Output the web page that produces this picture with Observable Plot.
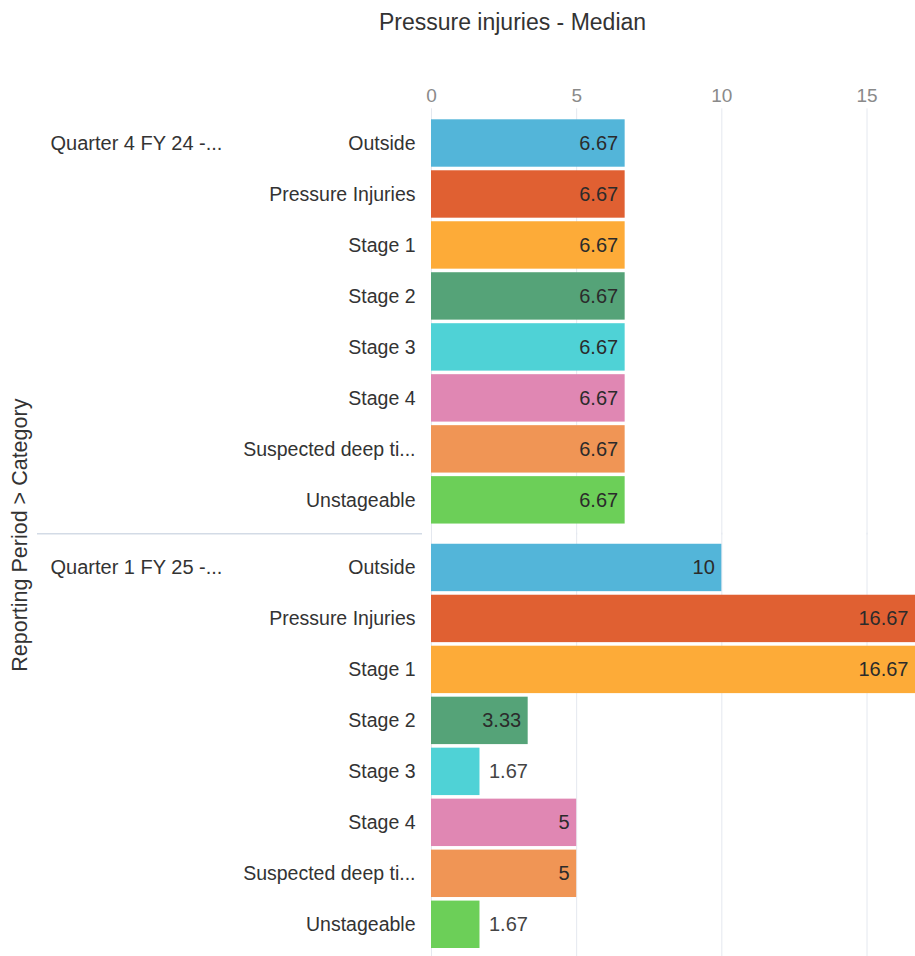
<!DOCTYPE html>
<html><head><meta charset="utf-8">
<script src="https://cdn.jsdelivr.net/npm/d3@7"></script>
<script src="https://cdn.jsdelivr.net/npm/@observablehq/plot@0.6"></script>
<style>
body{margin:0;background:#fff;font-family:"Liberation Sans",Arial,sans-serif}
#title{height:45px;line-height:45px;width:915px;padding-left:110px;box-sizing:border-box;text-align:center;font-size:23px;color:#333;overflow:hidden}
#chart svg{display:block}
</style></head><body>
<div id="title">Pressure injuries - Median</div>
<div id="chart"></div>
<script>
const periods = ["Quarter 4 FY 24 -...", "Quarter 1 FY 25 -..."];
const categories = ["Outside", "Pressure Injuries", "Stage 1", "Stage 2", "Stage 3", "Stage 4", "Suspected deep ti...", "Unstageable"];
const q4Values = [6.67, 6.67, 6.67, 6.67, 6.67, 6.67, 6.67, 6.67];
const q1Values = [10, 16.67, 16.67, 3.33, 1.67, 5, 5, 1.67];
const categoryColors = ["#53b5d9", "#e06032", "#fdab38", "#55a378", "#4fd2d6", "#e087b3", "#f09555", "#6ccf58"];
const xTicks = [0, 5, 10, 15];
const xMax = 16.67;
const yAxisLabel = "Reporting Period > Category";

const data = [];
[q4Values, q1Values].forEach((vals, i) => vals.forEach((v, j) => data.push({period: periods[i], category: categories[j], value: v})));

const W = 915, H = 911, mL = 431, mT = 74.3, mB = 8;
const insideMin = 2;
const font = "Liberation Sans, Arial, sans-serif";

const plot = Plot.plot({
  width: W, height: H, marginLeft: mL, marginTop: mT, marginBottom: mB, marginRight: 0,
  style: {fontFamily: font, fontSize: "19px", color: "#333", background: "#fff", overflow: "visible"},
  x: {domain: [0, xMax], axis: null, round: false},
  y: {domain: categories, paddingInner: 0.07, paddingOuter: 0, axis: null, round: false},
  fy: {domain: periods, paddingInner: 0.0476, paddingOuter: 0, axis: null, round: false},
  color: {domain: categories, range: categoryColors},
  marks: [
    Plot.ruleX(xTicks, {x: d => d, stroke: "#e4e8ef", strokeWidth: 1, insetTop: -11, insetBottom: -11}),
    Plot.text(xTicks, {x: d => d, fy: () => periods[0], text: d => String(d), frameAnchor: "top", dy: -31, fill: "#8a8a8a", fontSize: 19}),
    Plot.barX(data, {x: "value", y: "category", fy: "period", fill: "category"}),
    Plot.text(data.filter(d => d.value > insideMin), {x: "value", y: "category", fy: "period", text: d => String(d.value), textAnchor: "end", dx: -7, fill: "#2b2b2b", fontSize: 20}),
    Plot.text(data.filter(d => d.value <= insideMin), {x: "value", y: "category", fy: "period", text: d => String(d.value), textAnchor: "start", dx: 9, fill: "#444", fontSize: 20}),
    Plot.text(data, {y: "category", fy: "period", text: "category", frameAnchor: "left", textAnchor: "end", dx: -16, fill: "#333", fontSize: 19.5}),
    Plot.text(periods, {fy: d => d, y: () => categories[0], text: d => d, frameAnchor: "left", textAnchor: "start", dx: -381, fill: "#333", fontSize: 20}),
    Plot.text([yAxisLabel], {text: d => d, frameAnchor: "left", textAnchor: "middle", rotate: -90, dx: -411, dy: 1, fill: "#333", fontSize: 21.5, facet: "super"})
  ]
});

// separator between the two reporting periods, placed from the fy scale
let sepY = null;
try {
  const fyS = plot.scale("fy");
  if (fyS) sepY = fyS.range[0] + fyS.bandwidth + (fyS.step - fyS.bandwidth) / 2;
} catch (e) {}
if (sepY != null) {
  d3.select(plot).append("line")
    .attr("x1", 37).attr("x2", mL - 9)
    .attr("y1", sepY).attr("y2", sepY)
    .attr("stroke", "#d3dbe6").attr("stroke-width", 1.5);
}
document.getElementById("chart").appendChild(plot);
</script>
</body></html>
